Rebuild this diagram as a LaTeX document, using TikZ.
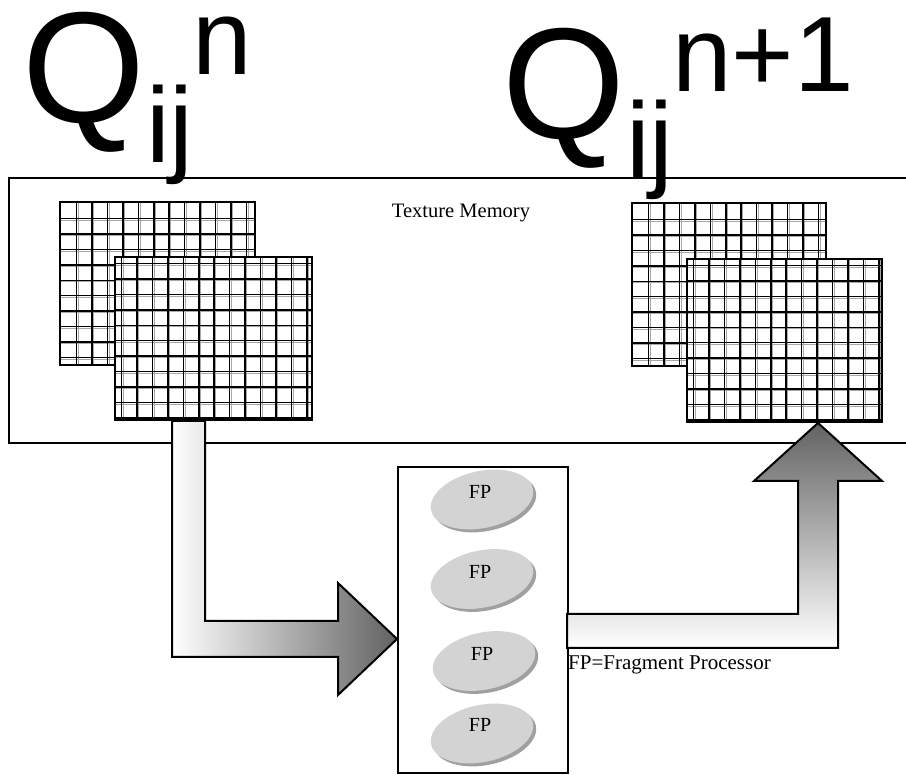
\documentclass[tikz,border=0pt]{standalone}
\usepackage{fontspec}
\setmainfont{Liberation Serif}
\newfontfamily\arialf{Liberation Sans}
\usetikzlibrary{shapes.geometric}
\definecolor{arrowdark}{HTML}{626262}
\definecolor{fpface}{HTML}{D3D3D3}
\definecolor{fpshade}{HTML}{A0A0A0}
\definecolor{gridgray}{HTML}{A8A8A8}
\newcommand\texgrid[5]{%
  \fill[white] (#1,#2) rectangle (#3,#4);
  \begin{scope}
    \clip (#1,#2) rectangle (#3,#4);
    \foreach \k in {0,...,13} {
      \draw[gridgray, line width=1pt] ({#1+#5+\k*15.45+1.7},#2) -- ({#1+#5+\k*15.45+1.7},#4);
      \draw[gridgray, line width=1pt] (#1,{#2+#5+\k*15.45+1.7}) -- (#3,{#2+#5+\k*15.45+1.7});
    }
    \foreach \k in {0,...,13} {
      \draw[black, line width=1.5pt] ({#1+#5+\k*15.45},#2) -- ({#1+#5+\k*15.45},#4);
      \draw[black, line width=1.5pt] (#1,{#2+#5+\k*15.45}) -- (#3,{#2+#5+\k*15.45});
    }
  \end{scope}
  \draw[black, line width=2pt] (#1,#2) rectangle (#3,#4);
}
\begin{document}
\begin{tikzpicture}[x=1pt,y=-1pt,
  outline/.style={draw=black, line width=2pt},
  bigq/.style={anchor=base west, inner sep=0pt, font=\arialf\fontsize{158}{158}\selectfont},
  smallq/.style={anchor=base west, inner sep=0pt, font=\arialf\fontsize{107}{107}\selectfont},
  serifl/.style={inner sep=0pt, font=\fontsize{20.5}{20.5}\selectfont},
  fpdisc/.style={ellipse, fill=fpface, inner sep=0pt, minimum width=104pt, minimum height=57pt, rotate=12},
  fpshadow/.style={ellipse, fill=fpshade, inner sep=0pt, minimum width=104pt, minimum height=57pt, rotate=12},
  fptext/.style={inner sep=0pt, font=\fontsize{20}{20}\selectfont}]
\useasboundingbox (0,0) rectangle (906,775);
\fill[white] (0,0) rectangle (906,775);

% texture memory box
\draw[outline] (906,178.5) -- (8.5,178.5) -- (8.5,443.5) -- (906,443.5);
\node[serifl, anchor=base] (texmem) at (461,218) {Texture Memory};

% grids
\texgrid{60}{202}{255}{365}{16.5}
\texgrid{115}{257}{312}{420}{6.5}
\texgrid{632}{203}{826}{366}{16.5}
\texgrid{687}{259}{882}{422}{6.5}

% fragment processor box
\draw[outline] (397.5,467.5) rectangle (567.5,773);
\coordinate (fpboxW) at (397,639);

% left arrow (texture -> FP)
\draw[outline, left color=white, right color=arrowdark]
  (172,421) -- (205,421) -- (205,621) -- (338,621) -- (338,583) -- (fpboxW)
  -- (338,695) -- (338,657) -- (172,657) -- cycle;

% right arrow (FP -> texture)
\draw[outline, bottom color=white, top color=arrowdark]
  (567,614) -- (798,614) -- (798,481) -- (754,481) -- (818,423) -- (882,481)
  -- (838,481) -- (838,648) -- (567,648) -- cycle;

% FP discs
\foreach \cx/\cy/\tx/\ty [count=\i] in {482/499.5/480/492, 482/579/480/571.5, 484/661/482/653.5, 482/733.5/480/725} {
  \node[fpshadow] (fps\i) at (\cx+3,\cy+3) {};
  \node[fpdisc] (fp\i) at (\cx,\cy) {};
  \node[fptext] (fpt\i) at (\tx,\ty) {FP};
}

\node[serifl, anchor=base west, font=\fontsize{21}{21}\selectfont] (legend) at (568,670) {FP=Fragment Processor};

% Q labels
\node[bigq] (q1) at (22,122.5) {Q};
\node[smallq] (q1sub) at (146,163) {ij};
\node[smallq] (q1sup) at (192,75) {n};
\node[bigq] (q2) at (502,138.5) {Q};
\node[smallq] (q2sub) at (626,178) {ij};
\node[smallq] (q2sup) at (672,92) {n+1};
\end{tikzpicture}
\end{document}
